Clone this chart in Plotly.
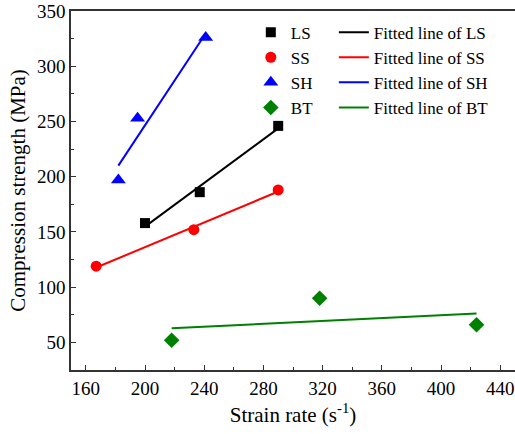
import numpy as np
import plotly.graph_objects as go

# Data
names = ["LS", "SS", "SH", "BT"]
ls_x = [200, 237, 290]
ls_y = [158, 186, 246]
ss_x = [167, 233, 290]
ss_y = [119, 152, 188]
sh_x = [182, 195, 241]
sh_y = [197, 253, 326]
bt_x = [218, 318, 424]
bt_y = [52, 90, 66]

series = [
    ("LS", ls_x, ls_y, "black", "square", 10),
    ("SS", ss_x, ss_y, "#FF0000", "circle", 11),
    ("SH", sh_x, sh_y, "#0000FF", "triangle-up", 13),
    ("BT", bt_x, bt_y, "#008000", "diamond", 12),
]

FONT = "Liberation Serif"

fig = go.Figure()
for name, xs, ys, color, sym, size in series:
    fig.add_trace(go.Scatter(
        x=xs, y=ys, mode="markers", name=name,
        marker=dict(symbol=sym, size=size, color=color, line=dict(width=0)),
        legend="legend",
    ))
for name, xs, ys, color, sym, size in series:
    k, b = np.polyfit(xs, ys, 1)
    fx = [min(xs), max(xs)]
    fy = [k * v + b for v in fx]
    fig.add_trace(go.Scatter(
        x=fx, y=fy, mode="lines", name="Fitted line of " + name,
        line=dict(color=color, width=2),
        legend="legend2",
    ))

axis_common = dict(
    showline=True, linecolor="#333333", linewidth=1.5,
    ticks="inside", ticklen=5, tickwidth=1.2, tickcolor="#333333",
    showgrid=False, zeroline=False,
    tickfont=dict(family=FONT, size=19, color="black"),
)

fig.update_layout(
    width=515, height=434,
    margin=dict(l=71, r=0, t=11, b=64),
    paper_bgcolor="white", plot_bgcolor="white",
    font=dict(family=FONT, size=18, color="black"),
    xaxis=dict(
        range=[150, 450], tick0=160, dtick=40, mirror=True,
        minor=dict(ticks="inside", ticklen=3, dtick=20, tick0=160, tickcolor="#333333"),
        title=dict(text="Strain rate (s<sup>-1</sup>)", font=dict(family=FONT, size=21), standoff=10),
        **axis_common,
    ),
    yaxis=dict(
        range=[25, 350], tick0=50, dtick=50,
        minor=dict(ticks="inside", ticklen=3, dtick=25, tick0=50, tickcolor="#333333"),
        title=dict(text="Compression strength (MPa)", font=dict(family=FONT, size=21), standoff=6),
        **axis_common,
    ),
    legend=dict(
        x=0.405, y=0.99, xanchor="left", yanchor="top",
        bgcolor="rgba(0,0,0,0)", font=dict(family=FONT, size=17),
        tracegroupgap=0, itemwidth=30,
    ),
    legend2=dict(
        x=0.592, y=0.99, xanchor="left", yanchor="top",
        bgcolor="rgba(0,0,0,0)", font=dict(family=FONT, size=17),
        tracegroupgap=0, itemwidth=30,
    ),
    showlegend=True,
)

fig.write_html("out.html")
